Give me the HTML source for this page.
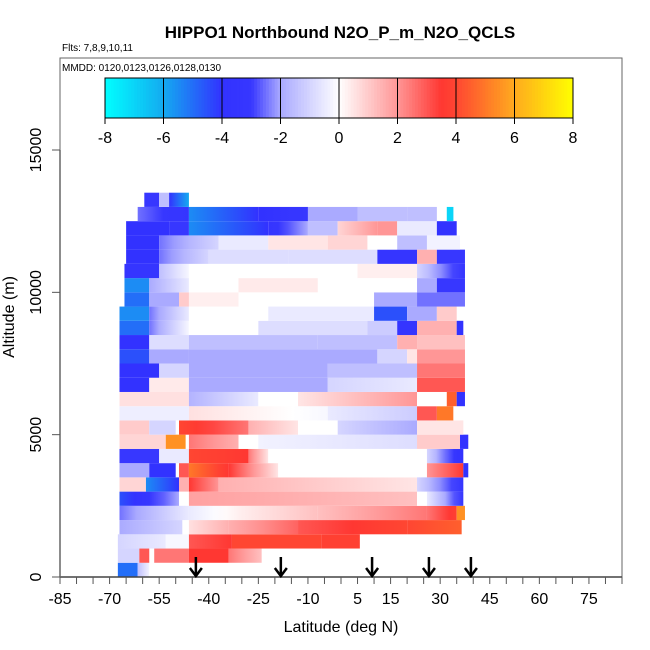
<!DOCTYPE html>
<html><head><meta charset="utf-8"><style>
html,body{margin:0;padding:0;background:#fff;}
svg{display:block;font-family:"Liberation Sans",sans-serif;}
</style></head><body>
<svg id="chart" width="650" height="650" viewBox="0 0 650 650" xmlns="http://www.w3.org/2000/svg">
<defs id="defs"></defs>
<rect x="0" y="0" width="650" height="650" fill="#fff"/>
<text x="340" y="38" text-anchor="middle" font-size="17" font-weight="bold">HIPPO1 Northbound N2O_P_m_N2O_QCLS</text>
<text x="62" y="51" font-size="10">Flts: 7,8,9,10,11</text>
<g id="cells"></g>
<rect x="60" y="58" width="562" height="519" fill="none" stroke="#666" stroke-width="1"/>
<text x="62" y="71" font-size="10">MMDD: 0120,0123,0126,0128,0130</text>
<g id="cbar"></g>
<g id="axes"></g>
<g id="arrows"></g>
<text x="341" y="632" text-anchor="middle" font-size="16">Latitude (deg N)</text>
<text transform="translate(14,317) rotate(-90)" text-anchor="middle" font-size="16">Altitude (m)</text>
</svg>
<script>
// ---- data ----
const altBinSize = 500;
const xTicks = [-85,-70,-55,-40,-25,-10,5,15,30,45,60,75];
const yTicks = [0,5000,10000,15000];
const cbarTicks = [-8,-6,-4,-2,0,2,4,6,8];
const arrowLats = [-43.9,-18.2,9.4,26.6,39.3];
// each row: [lat0, lat1, valueStart, valueEnd(optional)] segments, row index = altitude bin
const row0 = [[-67.5,-61.5,-5],[-61.5,-58,-1.5,-0.3]];
const row1 = [[-67.5,-61,-1],[-61,-58,3],[-56.5,-46,2.5],[-46,-34,3.5],[-34,-24,2.5,1.2]];
const row2 = [[-67.5,-53,-1,-0.5],[-53,-46,-0.2],[-46,-33,3,3.5],[-33,-6,4],[-6,5.7,3.8]];
const row3 = [[-67,-48,-2,-1],[-46,-34,0.6,1.5],[-34,-13,1.5,2.8],[-13,20,3,4],[20,36.5,4,4.5]];
const row4 = [[-67,-46,-2.5,-0.5],[-46,-31,-0.5,0.3],[-31,-7,0.3,1.2],[-7,26,1.2,2.5],[26,35,2.5,3.8],[35,37.5,5.5]];
const row5 = [[-67,-49,-4.5,-2],[-46,23,1.8,1.2],[23,26,0],[26,37,-0.5,-3.5]];
const row6 = [[-67,-59,0.8],[-59,-49,-5.5,-4],[-49,-46,1.5],[-46,-37,3.5,2],[-37,23,1.5,0.5],[23,37,-1,-3.5]];
const row7 = [[-67,-58,-2],[-58,-50,-4],[-49,-46,3],[-46,-34,5,3.5],[-34,-19,3.5,0.5],[-19,23,0],[26,37,2,3.5],[37,38.5,-4]];
const row8 = [[-67,-55,-3],[-55,-46,-0.5],[-46,-28,4,3.5],[-28,-22,2.5,0.5],[-22,26,0],[26,37,-1,-4]];
const row9 = [[-67,-53,0.8],[-53,-47,5.5],[-46,-31,2.5,1.5],[-31,-25,0],[-25,23,-0.3,-0.8],[23,36,1],[36,38.5,-4]];
const row10 = [[-67,-58,1],[-58,-50,-1],[-49,-28,4,2.5],[-28,-13,1.5,0.5],[-13,-1,0],[-1,23,-1,-2],[23,37,0.5]];
const row11 = [[-67,-46,-0.4],[-46,-4,0.6,-0.2],[-4,23,-0.5,-1.2],[23,29,3],[29,34,5],[34,36,0]];
const row12 = [[-67,-46,0.6],[-46,-25,-1.8,-0.5],[-25,-13,0],[-13,23,0.5,2],[23,32,0],[32,35,4.5],[35,37.5,-4]];
const row13 = [[-67,-58,-4],[-58,-46,0.4],[-46,-4,-2],[-4,23,-1,-0.5],[23,37.5,3]];
const row14 = [[-67,-55,-4],[-55,-46,-1],[-46,-4,-2],[-4,23,-1.5],[23,37.5,2.5]];
const row15 = [[-67,-58,-4.5],[-58,-46,-2],[-46,11,-2],[11,20,-1],[20,23,0.5],[23,37.5,2]];
const row16 = [[-67,-58,-4],[-58,-46,-0.8],[-46,-7,-1.5],[-7,17,-1.5],[17,23,1.5],[23,37.5,1.2]];
const row17 = [[-67,-58,-5],[-58,-46,-2.5,-0.2],[-46,-25,0],[-25,8,-0.8],[8,17,-1.2],[17,23,-3.5],[23,35,1.5],[35,37,-4]];
const row18 = [[-67,-58,-5.5],[-58,-46,-2.5,-0.5],[-46,-22,0],[-22,10,-0.5],[10,20,-4.5],[20,29,-2],[29,35,1]];
const row19 = [[-65.5,-58,-5],[-58,-49,-2],[-49,-46,1],[-46,-31,0.3],[-31,10,0],[10,23,-2],[23,37.5,-2.5]];
const row20 = [[-65.5,-58,-5.5],[-58,-46,-2,-0.5],[-46,-31,0],[-31,-7,0.4],[-7,23,0],[23,29,-2],[29,37.5,-3]];
const row21 = [[-65.5,-55,-3.5],[-55,-46,-1.5,-0.2],[-46,5,0],[5,23,0.3],[23,37.5,-1,-3.5]];
const row22 = [[-65,-55,-4],[-55,-40,-2.5,-1],[-40,-16,-0.8],[-16,11,-0.8],[11,23,-3.5],[23,29,1.5],[29,37.5,-3]];
const row23 = [[-65,-55,-4],[-55,-37,-2.5,-1],[-37,-22,-0.5],[-22,-4,0.5],[-4,8,0.8],[8,17,0],[17,26,-1.5],[26,36,-0.3]];
const row24 = [[-65,-52,-4],[-52,-46,-3],[-46,-22,-5.5,-4],[-22,-10,-3.5,-2],[-10,-1,-1.5],[-1,11,0.8,2],[11,17,2],[17,29,-0.5],[29,35,-4]];
const row25 = [[-61.5,-46,-2.5,-3.5],[-46,-25,-5.5,-4],[-25,-10,-4,-3],[-10,5,-2],[5,20,-1.5],[20,29,-1.5],[32,34,-7]];
const row26 = [[-59.5,-55,-3],[-55,-52,-1.5],[-52,-46,-4,-6]];
const rows = [row0,row1,row2,row3,row4,row5,row6,row7,row8,row9,row10,row11,row12,row13,row14,row15,row16,row17,row18,row19,row20,row21,row22,row23,row24,row25,row26];

// ---- scales ----
const X0=60, X1=622, LAT0=-85, LAT1=85;
const xs = lat => X0 + (lat-LAT0)/(LAT1-LAT0)*(X1-X0);
const Y0=577, Ytop=150;
const ys = alt => Y0 - alt/15000*(Y0-Ytop);
const CB0=105, CB1=573;
const cs = v => CB0 + (v+8)/16*(CB1-CB0);
const stops = [[-8,[0,255,255]],[-6,[20,170,240]],[-4,[50,50,255]],[-3,[55,55,255]],[-2,[170,170,255]],[0,[255,255,255]],[2,[255,150,150]],[3.5,[255,55,50]],[4,[255,70,50]],[6,[255,170,30]],[8,[255,255,0]]];
function color(v){
  v=Math.max(-8,Math.min(8,v));
  for(let i=0;i<stops.length-1;i++){
    const [a,ca]=stops[i],[b,cb]=stops[i+1];
    if(v<=b){const t=(v-a)/(b-a);return 'rgb('+ca.map((c,j)=>Math.round(c+(cb[j]-c)*t)).join(',')+')';}
  }
  return 'rgb(255,255,0)';
}
const NS='http://www.w3.org/2000/svg';
function mk(tag,attrs,parent){const e=document.createElementNS(NS,tag);for(const k in attrs)e.setAttribute(k,attrs[k]);parent.appendChild(e);return e;}

// heatmap
const cells=document.getElementById('cells');
const defs=document.getElementById('defs');
let gid=0;
rows.forEach((segs,k)=>{
  segs.forEach(s=>{
    const y1=ys(k*altBinSize), y2=ys((k+1)*altBinSize);
    let fill=color(s[2]);
    if(s.length>3){
      const id='g'+(gid++);
      const lg=mk('linearGradient',{id:id,x1:0,y1:0,x2:1,y2:0},defs);
      for(let i=0;i<=4;i++){
        mk('stop',{offset:i/4,'stop-color':color(s[2]+(s[3]-s[2])*i/4)},lg);
      }
      fill='url(#'+id+')';
    }
    const r=mk('rect',{x:xs(s[0]),y:y2,width:xs(s[1])-xs(s[0]),height:y1-y2,fill:fill},cells);
    
    
  });
});

// colorbar
const cb=document.getElementById('cbar');
const NSTEP=160;
for(let i=0;i<NSTEP;i++){
  const v=-8+16*(i+0.5)/NSTEP;
  const r=mk('rect',{x:cs(-8+16*i/NSTEP),y:78,width:(CB1-CB0)/NSTEP+0.5,height:40,fill:color(v)},cb);
  
  
}
const cbf=mk('rect',{x:CB0,y:78,width:CB1-CB0,height:40,fill:'none',stroke:'#000','stroke-width':1},cb);


cbarTicks.forEach(t=>{
  const l=mk('line',{x1:cs(t),y1:78,x2:cs(t),y2:124,stroke:'#000','stroke-width':1},cb);
  
  
  const tx=mk('text',{x:cs(t),y:143,'text-anchor':'middle','font-size':16},cb);
  tx.textContent=t;
  
  
});

// axes
const ax=document.getElementById('axes');
mk('line',{x1:X0,y1:Y0,x2:X1,y2:Y0,stroke:'#444','stroke-width':1.5},ax);
mk('line',{x1:X0,y1:Ytop,x2:X0,y2:Y0,stroke:'#666','stroke-width':1.5},ax);
for(let lat=-85;lat<=85;lat+=5){
  const l=mk('line',{x1:xs(lat),y1:Y0,x2:xs(lat),y2:Y0+7,stroke:'#555'},ax);
  
  
}
xTicks.forEach(t=>{
  const tx=mk('text',{x:xs(t),y:604,'text-anchor':'middle','font-size':16},ax);
  tx.textContent=t;
  
  
});
yTicks.forEach(t=>{
  const l=mk('line',{x1:X0-8,y1:ys(t),x2:X0,y2:ys(t),stroke:'#555'},ax);
  
  
  const tx=mk('text',{'text-anchor':'middle','font-size':16,transform:'translate(41,'+ys(t)+') rotate(-90)'},ax);
  tx.textContent=t;
  
  
});

// arrows
const ar=document.getElementById('arrows');
arrowLats.forEach(lat=>{
  const x=xs(lat);
  const g=mk('g',{},ar);
  
  
  mk('line',{x1:x,y1:557,x2:x,y2:575,stroke:'#000','stroke-width':2.5},g);
  mk('path',{d:`M${x-6} ${568} L${x} ${576} L${x+6} ${568}`,fill:'none',stroke:'#000','stroke-width':2.5},g);
});
</script>
</body></html>
